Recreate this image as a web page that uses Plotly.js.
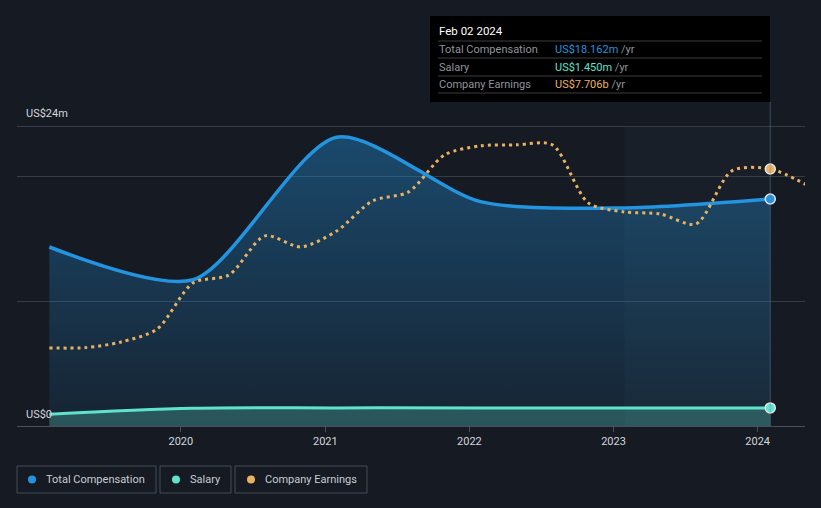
<!DOCTYPE html>
<html>
<head>
<meta charset="utf-8">
<script src="https://cdn.plot.ly/plotly-3.0.1.min.js"></script>
<style>
html,body{margin:0;padding:0;background:#151a23;}
#chart{width:821px;height:508px;}
</style>
</head>
<body>
<div id="chart"></div>
<script>
// ---- data ----
const compDates = ['2019-02-02','2020-02-01','2021-01-30','2022-01-29','2023-01-28','2024-02-02'];
const totalComp = [14.32, 11.7, 23.1, 17.95, 17.45, 18.162];   // US$ m
const salary    = [0.95, 1.42, 1.45, 1.45, 1.45, 1.45];        // US$ m

const earnDates = ['2019-02-02','2019-05-04','2019-08-03','2019-11-02','2020-02-01','2020-05-02',
  '2020-08-01','2020-10-31','2021-01-30','2021-05-01','2021-07-31','2021-10-30','2022-01-29',
  '2022-04-30','2022-07-30','2022-10-29','2023-01-28','2023-04-29','2023-07-29','2023-10-28',
  '2024-02-02','2024-05-04'];
const earnings = [2.34, 2.35, 2.52, 2.91, 4.29, 4.53, 5.70, 5.37, 5.85, 6.75, 7.02, 8.13, 8.40,
  8.43, 8.43, 6.69, 6.42, 6.36, 6.06, 7.65, 7.706, 7.23];      // US$ b

const yearTicks = ['2020-01-01','2021-01-01','2022-01-01','2023-01-01','2024-01-01'];
const yearLabels = ['2020','2021','2022','2023','2024'];

const hoverDate = '2024-02-02';
const hoverStart = '2023-01-28';
const tooltipTitle = 'Feb 02 2024';
const legendNames = ['Total Compensation','Salary','Company Earnings'];

// ---- style ----
const BLUE = '#2394df', TEAL = '#5fe3cc', ORANGE = '#e9b263';
const W = 821, H = 508, ML = 17, MR = 16, MT = 0, MB = 82;
const PW = W - ML - MR, PH = H - MT - MB;
const px = x => (x - ML) / PW;
const py = y => (H - MB - y) / PH;

const hi = compDates.indexOf(hoverDate);
const ei = earnDates.indexOf(hoverDate);

const traces = [
  {x: compDates, y: totalComp, type: 'scatter', mode: 'lines', name: legendNames[0],
   line: {color: BLUE, width: 3.5, shape: 'spline', smoothing: 0.75},
   fill: 'tozeroy',
   fillgradient: {type: 'vertical', start: 0, stop: 24,
     colorscale: [[0, 'rgba(35,148,223,0.08)'], [1, 'rgba(35,148,223,0.40)']]},
   hoverinfo: 'skip'},
  {x: compDates, y: salary, type: 'scatter', mode: 'lines', name: legendNames[1],
   line: {color: TEAL, width: 3, shape: 'spline', smoothing: 1},
   fill: 'tozeroy', fillcolor: 'rgba(95,227,204,0.26)',
   hoverinfo: 'skip'},
  {x: earnDates, y: earnings, type: 'scatter', mode: 'lines', name: legendNames[2], yaxis: 'y2',
   line: {color: ORANGE, width: 3, shape: 'spline', smoothing: 0.8, dash: '3px,4px'},
   hoverinfo: 'skip'},
  {x: [compDates[hi]], y: [totalComp[hi]], type: 'scatter', mode: 'markers', showlegend: false,
   marker: {color: BLUE, size: 10, line: {color: '#e6e6e6', width: 1.5}}, hoverinfo: 'skip', cliponaxis: false},
  {x: [compDates[hi]], y: [salary[hi]], type: 'scatter', mode: 'markers', showlegend: false,
   marker: {color: TEAL, size: 10, line: {color: '#e6e6e6', width: 1.5}}, hoverinfo: 'skip', cliponaxis: false},
  {x: [earnDates[ei]], y: [earnings[ei]], type: 'scatter', mode: 'markers', showlegend: false, yaxis: 'y2',
   marker: {color: ORANGE, size: 10, line: {color: '#e6e6e6', width: 1.5}}, hoverinfo: 'skip', cliponaxis: false}
];

const FONT = 'Roboto, "Open Sans", sans-serif';
const shapes = [
  // highlighted period
  {type: 'rect', xref: 'x', yref: 'y', x0: hoverStart, x1: hoverDate, y0: 0, y1: 24,
   fillcolor: 'rgba(120,160,200,0.035)', line: {width: 0}, layer: 'below'},
  // hover line
  {type: 'line', xref: 'x', yref: 'paper', x0: hoverDate, x1: hoverDate, y0: 0, y1: py(102),
   line: {color: 'rgba(110,135,160,0.45)', width: 1}, layer: 'above'},
  // tooltip box
  {type: 'rect', xref: 'paper', yref: 'paper', x0: px(430), x1: px(770), y0: py(102), y1: py(16),
   fillcolor: '#000000', line: {width: 0}, layer: 'above'}
];
[41, 58, 76, 93].forEach(yy => shapes.push({type: 'line', xref: 'paper', yref: 'paper',
  x0: px(438), x1: px(762), y0: py(yy), y1: py(yy), line: {color: '#3d3d3d', width: 1}, layer: 'above'}));

// legend boxes
const legBoxes = [[17, 156], [160, 231], [235, 367]];
const legDots = [32, 176, 251];
const legText = [44, 188, 263];
const legColors = [BLUE, TEAL, ORANGE];
legBoxes.forEach(b => shapes.push({type: 'rect', xref: 'paper', yref: 'paper',
  x0: px(b[0]), x1: px(b[1]), y0: py(493), y1: py(466), line: {color: '#474d58', width: 1}}));
legDots.forEach((d, i) => shapes.push({type: 'circle', xref: 'paper', yref: 'paper',
  x0: px(d - 4), x1: px(d + 4), y0: py(483.5), y1: py(475.5), fillcolor: legColors[i], line: {width: 0}}));

const annotations = [
  {xref: 'paper', yref: 'paper', x: px(24), y: py(114), text: 'US$24m', showarrow: false,
   xanchor: 'left', yanchor: 'middle', font: {size: 11, color: '#d4d7dc', family: FONT}},
  {xref: 'paper', yref: 'paper', x: px(24), y: py(414), text: 'US$0', showarrow: false,
   xanchor: 'left', yanchor: 'middle', font: {size: 11, color: '#d4d7dc', family: FONT}},
  {xref: 'paper', yref: 'paper', x: px(437), y: py(31), text: tooltipTitle, showarrow: false,
   xanchor: 'left', yanchor: 'middle', font: {size: 11.5, color: '#ffffff', family: FONT}}
];
const rows = [
  [legendNames[0], 'US$' + totalComp[hi].toFixed(3) + 'm', BLUE, 49.5],
  [legendNames[1], 'US$' + salary[hi].toFixed(3) + 'm', TEAL, 67],
  [legendNames[2], 'US$' + earnings[ei].toFixed(3) + 'b', ORANGE, 84.5]
];
rows.forEach(r => {
  annotations.push({xref: 'paper', yref: 'paper', x: px(437), y: py(r[3]), text: r[0], showarrow: false,
    xanchor: 'left', yanchor: 'middle', font: {size: 11, color: '#8e949c', family: FONT}});
  annotations.push({xref: 'paper', yref: 'paper', x: px(553), y: py(r[3]),
    text: '<span style="color:' + r[2] + '">' + r[1] + '</span> /yr', showarrow: false,
    xanchor: 'left', yanchor: 'middle', font: {size: 11, color: '#8e949c', family: FONT}});
});
legendNames.forEach((n, i) => annotations.push({xref: 'paper', yref: 'paper', x: px(legText[i]), y: py(479.5),
  text: n, showarrow: false, xanchor: 'left', yanchor: 'middle', font: {size: 11, color: '#c9cdd3', family: FONT}}));

const layout = {
  width: W, height: H,
  margin: {l: ML, r: MR, t: MT, b: MB},
  paper_bgcolor: '#151a23', plot_bgcolor: '#151a23',
  showlegend: false,
  font: {family: FONT, color: '#d4d7dc', size: 11},
  xaxis: {type: 'date', range: ['2018-11-12', '2024-04-30'],
    tickvals: yearTicks, ticktext: yearLabels, ticks: 'outside', ticklen: 5, tickcolor: '#4a4f58',
    showgrid: false, showline: true, linecolor: '#4a4f58', linewidth: 1, zeroline: false,
    tickfont: {size: 11, color: '#d4d7dc', family: FONT}, fixedrange: true},
  yaxis: {range: [0, PH / 12.5], tickvals: [10, 20, 24], showticklabels: false, ticks: '',
    showgrid: true, gridcolor: '#363b45', gridwidth: 1, zeroline: false, showline: false, fixedrange: true},
  yaxis2: {overlaying: 'y', range: [0, PH / 33.35], showticklabels: false, showgrid: false,
    zeroline: false, showline: false, fixedrange: true},
  shapes: shapes,
  annotations: annotations
};

Plotly.newPlot('chart', traces, layout, {displayModeBar: false, staticPlot: true});
</script>
</body>
</html>
